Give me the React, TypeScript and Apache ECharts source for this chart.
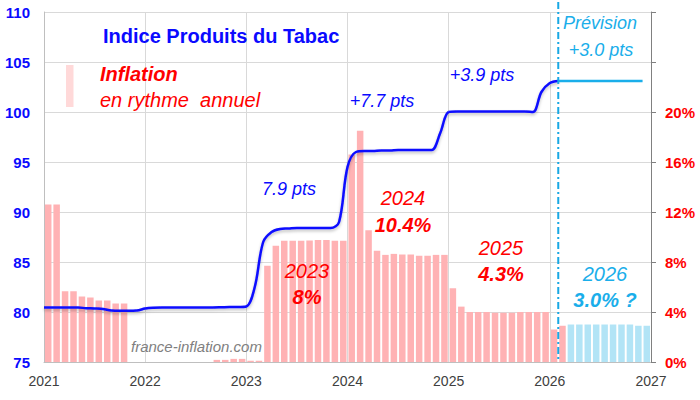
import React, { useEffect, useRef } from "react";
import * as echarts from "echarts";

// ---- data ----
const YEARS = [2021, 2022, 2023, 2024, 2025, 2026];
const X_TICKS = [2021, 2022, 2023, 2024, 2025, 2026, 2027];

// Tobacco price index (monthly, start of month)
const INDEX_2021 = [80.45, 80.45, 80.45, 80.45, 80.45, 80.38, 80.35, 80.3, 80.15, 80.13, 80.13, 80.15];
const INDEX_2022 = [80.35, 80.43, 80.45, 80.45, 80.45, 80.45, 80.45, 80.45, 80.45, 80.47, 80.5, 80.5];
const INDEX_2023 = [80.55, 82.5, 87.0, 88.0, 88.3, 88.35, 88.4, 88.4, 88.4, 88.4, 88.4, 89.0];
const INDEX_2024 = [94.5, 96.0, 96.1, 96.1, 96.15, 96.15, 96.2, 96.2, 96.2, 96.2, 96.2, 97.9];
const INDEX_2025 = [100.0, 100.05, 100.05, 100.05, 100.05, 100.05, 100.05, 100.05, 100.05, 100.05, 100.0, 102.0];
const INDEX_2026_ACTUAL = [102.9, 103.1];
const INDEX_2026_FORECAST = [103.1, 103.1, 103.1, 103.1, 103.1, 103.1, 103.1, 103.1, 103.1, 103.1, 103.1];

// Annual inflation rate (%), monthly
const INFL_2021 = [12.6, 12.6, 5.66, 5.66, 5.24, 5.16, 4.92, 4.92, 4.68, 4.68, 0, 0];
const INFL_2022 = [0, 0, 0, 0, 0, 0, 0, 0, 0.17, 0.17, 0.25, 0.25];
const INFL_2023 = [0.1, 0.1, 7.7, 9.3, 9.7, 9.7, 9.7, 9.72, 9.76, 9.76, 9.7, 9.7];
const INFL_2024 = [16.6, 18.5, 10.55, 8.9, 8.57, 8.65, 8.6, 8.6, 8.5, 8.5, 8.57, 8.57];
const INFL_2025 = [5.9, 4.43, 4.0, 4.0, 4.0, 3.94, 3.94, 3.94, 4.0, 4.0, 4.0, 4.0];
const INFL_2026_ACTUAL = [2.6, 2.9];
const INFL_2026_FORECAST = [3.0, 3.0, 3.0, 3.0, 3.0, 3.0, 3.0, 3.0, 2.9, 2.9];

const FORECAST_START = 2026 + 1 / 12;

const BLUE = "#0a0aff";
const LIGHT_BLUE = "#1aaeea";
const RED = "#ff0000";
const BAR_RED = "#ffb2b4";
const BAR_BLUE = "#b2e4f6";
const FONT = "'Liberation Sans', Arial, sans-serif";

export default function App() {
  const ref = useRef<HTMLDivElement>(null);

  useEffect(() => {
    document.body.style.margin = "0";
    if (!ref.current) return;
    const chart = echarts.init(ref.current, null, { renderer: "svg" });

    const actualIndexYears = [INDEX_2021, INDEX_2022, INDEX_2023, INDEX_2024, INDEX_2025];
    const actualInflYears = [INFL_2021, INFL_2022, INFL_2023, INFL_2024, INFL_2025];

    const lineActual: number[][] = [];
    actualIndexYears.forEach((arr, yi) =>
      arr.forEach((v, m) => lineActual.push([YEARS[yi] + m / 12, v]))
    );
    INDEX_2026_ACTUAL.forEach((v, m) => lineActual.push([2026 + m / 12, v]));
    const lineForecast: number[][] = INDEX_2026_FORECAST.map((v, i) => [2026 + (i + 1) / 12, v]);

    const bars: any[] = [];
    actualInflYears.forEach((arr, yi) =>
      arr.forEach((v, m) => {
        if (v > 0) bars.push({ value: [YEARS[yi] + (m + 0.5) / 12, v], itemStyle: { color: BAR_RED } });
      })
    );
    INFL_2026_ACTUAL.forEach((v, m) =>
      bars.push({ value: [2026 + (m + 0.5) / 12, v], itemStyle: { color: BAR_RED } })
    );
    INFL_2026_FORECAST.forEach((v, i) =>
      bars.push({ value: [2026 + (i + 2.5) / 12, v], itemStyle: { color: BAR_BLUE } })
    );

    chart.setOption({
      animation: false,
      grid: { left: 44, right: 49, top: 12, bottom: 38 },
      xAxis: {
        type: "value",
        min: X_TICKS[0],
        max: X_TICKS[X_TICKS.length - 1],
        interval: 1,
        axisLabel: {
          formatter: (v: number) => String(Math.round(v)),
          color: "#404040",
          fontSize: 14,
          fontFamily: FONT,
          margin: 12,
        },
        axisLine: { show: true, lineStyle: { color: "#bfbfbf", width: 1 } },
        axisTick: { show: false },
        splitLine: { show: true, lineStyle: { color: "#d9d9d9", width: 1 } },
      },
      yAxis: [
        {
          type: "value",
          min: 75,
          max: 110,
          interval: 5,
          position: "left",
          axisLabel: { color: BLUE, fontSize: 15, fontWeight: "bold", fontFamily: FONT, margin: 14 },
          axisLine: { show: true, lineStyle: { color: "#bfbfbf" } },
          axisTick: { show: false },
          splitLine: { show: true, lineStyle: { color: "#d9d9d9", width: 1 } },
        },
        {
          type: "value",
          min: 0,
          max: 28,
          interval: 4,
          position: "right",
          axisLabel: {
            formatter: (v: number) => (v <= 20 ? v + "%" : ""),
            color: RED,
            fontSize: 15,
            fontWeight: "bold",
            fontFamily: FONT,
            margin: 14,
          },
          axisLine: { show: true, lineStyle: { color: "#808080" } },
          axisTick: { show: true, length: 5, lineStyle: { color: "#808080" } },
          splitLine: { show: false },
        },
      ],
      series: [
        {
          type: "bar",
          yAxisIndex: 1,
          data: bars,
          barWidth: 6.5,
          z: 1,
        },
        {
          type: "line",
          yAxisIndex: 0,
          data: lineActual,
          smooth: 0.35,
          showSymbol: false,
          lineStyle: {
            color: BLUE,
            width: 2.5,
            shadowColor: "rgba(0,0,0,0.25)",
            shadowBlur: 3,
            shadowOffsetY: 2,
          },
          z: 3,
        },
        {
          type: "line",
          yAxisIndex: 0,
          data: lineForecast,
          smooth: 0.35,
          showSymbol: false,
          lineStyle: { color: LIGHT_BLUE, width: 2.5 },
          z: 3,
        },
      ],
    });

    const fx = chart.convertToPixel({ xAxisIndex: 0 }, FORECAST_START) as number;
    const y0 = chart.convertToPixel({ yAxisIndex: 0 }, 75) as number;

    const txt = (
      text: string,
      x: number,
      y: number,
      fill: string,
      size: number,
      weight: string,
      style: string,
      align = "center",
      family = FONT
    ) => ({
      type: "text",
      x,
      y,
      z: 10,
      style: {
        text,
        fill,
        font: `${style} ${weight} ${size}px ${family}`,
        align,
        verticalAlign: "middle",
        textAlign: align,
        textVerticalAlign: "middle",
      },
    });

    chart.setOption({
      graphic: [
        {
          type: "line",
          z: 10,
          shape: { x1: fx, y1: 2, x2: fx, y2: y0 },
          style: { stroke: "#18a8e4", lineWidth: 2, lineDash: [7, 3, 2, 3] },
        },
        {
          type: "line",
          z: 10,
          shape: { x1: 55, y1: 37, x2: 85, y2: 37 },
          style: {
            stroke: BLUE,
            lineWidth: 3,
            shadowColor: "rgba(0,0,0,0.35)",
            shadowBlur: 4,
            shadowOffsetY: 3,
          },
        },
        txt("Indice Produits du Tabac", 103, 36, BLUE, 20, "bold", "normal", "left"),
        {
          type: "rect",
          z: 10,
          shape: { x: 66, y: 65, width: 7.5, height: 42 },
          style: { fill: "#ffd9d9" },
        },
        txt("Inflation", 100, 74, RED, 20, "bold", "italic", "left"),
        txt("en rythme  annuel", 100, 100, RED, 20, "normal", "italic", "left"),
        txt("7.9 pts", 289, 189, BLUE, 18, "normal", "italic"),
        txt("+7.7 pts", 382, 101, BLUE, 18, "normal", "italic"),
        txt("+3.9 pts", 482, 75, BLUE, 18, "normal", "italic"),
        txt("Prévision", 600, 23, LIGHT_BLUE, 18, "normal", "italic"),
        txt("+3.0 pts", 601, 50, LIGHT_BLUE, 18, "normal", "italic"),
        txt("2023", 307, 271, RED, 20, "normal", "italic"),
        txt("8%", 307, 297, RED, 20, "bold", "italic"),
        txt("2024", 403, 198, RED, 20, "normal", "italic"),
        txt("10.4%", 403, 225, RED, 20, "bold", "italic"),
        txt("2025", 501, 248, RED, 20, "normal", "italic"),
        txt("4.3%", 501, 274, RED, 20, "bold", "italic"),
        txt("2026", 605, 274, LIGHT_BLUE, 20, "normal", "italic"),
        txt("3.0% ?", 605, 300, LIGHT_BLUE, 20, "bold", "italic"),
        txt("france-inflation.com", 131, 346, "#808080", 15, "normal", "italic", "left"),
      ],
    });

    return () => chart.dispose();
  }, []);

  return <div ref={ref} style={{ width: 700, height: 400 }} />;
}
